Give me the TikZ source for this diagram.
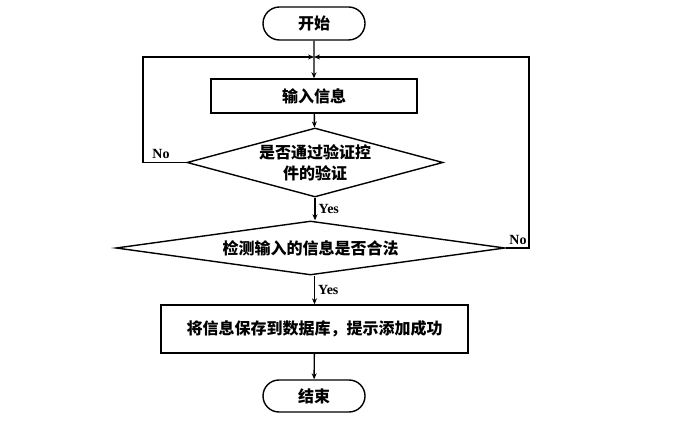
\documentclass[tikz,border=0pt]{standalone}
\usepackage{fontspec}
\setmainfont{Liberation Serif}
\newfontfamily\cjk{Noto Sans CJK SC}
\usetikzlibrary{shapes.geometric,shapes.misc,arrows.meta}

\begin{document}
\begin{tikzpicture}[x=1pt, y=1pt, line width=1.4pt,
  every node/.style={inner sep=0pt, font=\cjk\bfseries\fontsize{16}{21}\selectfont},
  term/.style={rounded rectangle, draw=black, minimum width=102pt, minimum height=33pt},
  proc/.style={rectangle, draw=black},
  test/.style={diamond, draw=black, align=center},
  flow/.style={-{Stealth[length=6pt, width=5pt]}},
  tag/.style={font=\bfseries\fontsize{14}{16}\selectfont}]
\useasboundingbox (0,0) rectangle (674,-435);
\node (start) [term] at (314, -23.5) {开始};
\node (input) [proc, minimum width=206pt, minimum height=34pt] at (314, -96) {输入信息};
\node (check1) [test, aspect=3.7, minimum width=256pt, minimum height=69pt] at (315, -162.5) {是否通过验证控\\件的验证};
\node (check2) [test, aspect=7.2, minimum width=389pt, minimum height=54pt] at (310.5, -248) {检测输入的信息是否合法};
\node (save) [proc, minimum width=307pt, minimum height=48pt] at (314.5, -329) {将信息保存到数据库，提示添加成功};
\node (end) [term, minimum height=32pt] at (314, -396) {结束};
\coordinate (join) at (314, -57);
\coordinate (lback) at (143, -57);
\coordinate (rback) at (529, -57);
\draw [flow] (start) to (input);
\draw [flow] (input) to (check1);
\draw [flow] (check1) to node [tag, right=3pt] {Yes} (check2.north -| check1.south);
\draw [flow] (check2.south -| save.north) to node [tag, right=3pt] {Yes} (save);
\draw [flow] (save) to (end);
\draw [flow] (check1.west) -- (lback |- check1.west) -- (lback) -- (join);
\draw [flow] (check2.east) -- (rback |- check2.east) -- (rback) -- (join);
\node (no1) [tag] at (161, -154) {No};
\node (no2) [tag] at (518, -240) {No};
\end{tikzpicture}
\end{document}
